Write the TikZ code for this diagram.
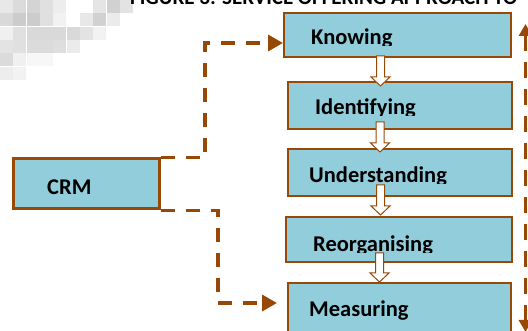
\documentclass[tikz,border=0pt]{standalone}
\usepackage{fontspec}
\setmainfont{Carlito}
\usetikzlibrary{arrows.meta,calc}
\definecolor{boxfill}{HTML}{92CDDC}
\definecolor{boxedge}{HTML}{984807}
\definecolor{linkbrown}{HTML}{974706}
% hollow block arrow from #1 (top of shaft) down to #2 (tip)
\newcommand\hollowdown[2]{%
  \draw[hollowarrow] ($(#1)+(-4,0)$) -- ($(#2)+(-4,-9)$) -- ($(#2)+(-9.5,-9)$)
    -- (#2) -- ($(#2)+(9.5,-9)$) -- ($(#2)+(4,-9)$) -- ($(#1)+(4,0)$) -- cycle;}
\begin{document}
\begin{tikzpicture}[x=1pt,y=-1pt,
  stepbox/.style={draw=boxedge, fill=boxfill, line width=2pt, inner sep=0pt},
  steptext/.style={anchor=base west, inner sep=0pt,
    font=\bfseries\fontsize{22.5}{24}\selectfont},
  link/.style={draw=linkbrown, line width=3.5pt, dash pattern=on 14pt off 11pt,
    -{Triangle[length=15pt,width=16pt]}},
  hollowarrow/.style={draw=boxedge, fill=white, line width=1pt}]
\useasboundingbox (0,0) rectangle (528,331);

% faint pixelated patch in the upper left corner
\foreach \x/\y/\g in {0/0/91,13/0/86,27/0/83,40/0/88,53/0/93,93/0/90,107/0/82,120/0/89,
  0/13/85,13/13/80,27/13/80,40/13/88,53/13/95,80/13/91,93/13/82,107/13/92,
  0/27/94,13/27/88,27/27/85,40/27/85,53/27/85,67/27/85,80/27/89,93/27/95,
  0/40/89,13/40/88,27/40/86,40/40/86,53/40/87,67/40/92,
  0/53/86,13/53/94,27/53/97,40/53/97,0/67/93,13/67/95}
  \fill[black!\inteval{100-\g}] (\x,\y) rectangle ++(13.4,13.4);

% caption running off the top edge
\node[anchor=base west, inner sep=0pt, font=\bfseries\fontsize{21}{22}\selectfont]
  (title) at (130,4.5) {FIGURE 3: SERVICE OFFERING APPROACH TO};

% boxes
\node[stepbox, minimum width=146pt, minimum height=50pt, line width=3pt]
  (crm) at (86,184) {};
\node[stepbox, minimum width=227pt, minimum height=44pt] (know) at (397.5,35) {};
\node[stepbox, minimum width=224pt, minimum height=47pt] (ident) at (400,105.5) {};
\node[stepbox, minimum width=224pt, minimum height=47pt] (under) at (400,172.5) {};
\node[stepbox, minimum width=226pt, minimum height=45pt] (reorg) at (399,239.5) {};
\node[stepbox, minimum width=223pt, minimum height=60pt] (meas) at (399.5,313) {};

% labels, cut off along their baselines
\node[steptext] (crmtxt) at (47,195) {CRM};
\begin{scope}
  \clip (know.north west) rectangle (511,45.6);
  \node[steptext] (knowtxt) at (311,45) {Knowing};
\end{scope}
\begin{scope}
  \clip (ident.north west) rectangle (512,115.6);
  \node[steptext] (identtxt) at (315,115) {Identifying};
\end{scope}
\begin{scope}
  \clip (under.north west) rectangle (512,183.6);
  \node[steptext] (undertxt) at (309,183) {Understanding};
\end{scope}
\begin{scope}
  \clip (reorg.north west) rectangle (512,252.6);
  \node[steptext] (reorgtxt) at (313,252) {Reorganising};
\end{scope}
\node[steptext] (meastxt) at (309,317) {Measuring};

% hollow arrows between the steps
\coordinate (s1) at (380.5,56);  \coordinate (t1) at (380.5,86);
\coordinate (s2) at (380,122);   \coordinate (t2) at (380,152);
\coordinate (s3) at (380.5,185); \coordinate (t3) at (380.5,215);
\coordinate (s4) at (379.5,253); \coordinate (t4) at (379.5,282);
\hollowdown{s1}{t1}
\hollowdown{s2}{t2}
\hollowdown{s3}{t3}
\hollowdown{s4}{t4}

% dashed links from CRM
\coordinate (c1) at (205,43);
\coordinate (c2) at (218,303);
\draw[link] (crm.north east) -| (c1) -- (c1 -| know.west);
\draw[link, shorten >=10pt] (crm.south east) -| (c2) -- (c2 -| meas.west);

% feedback line along the right edge
\coordinate (rtop) at (525.5,24);
\coordinate (rbot) at (525.5,332);
\draw[draw=linkbrown, line width=3.5pt, dash pattern=on 16pt off 11pt,
  {Triangle[length=12pt,width=13pt]}-{Triangle[length=12pt,width=13pt]}] (rtop) -- (rbot);
\end{tikzpicture}
\end{document}
